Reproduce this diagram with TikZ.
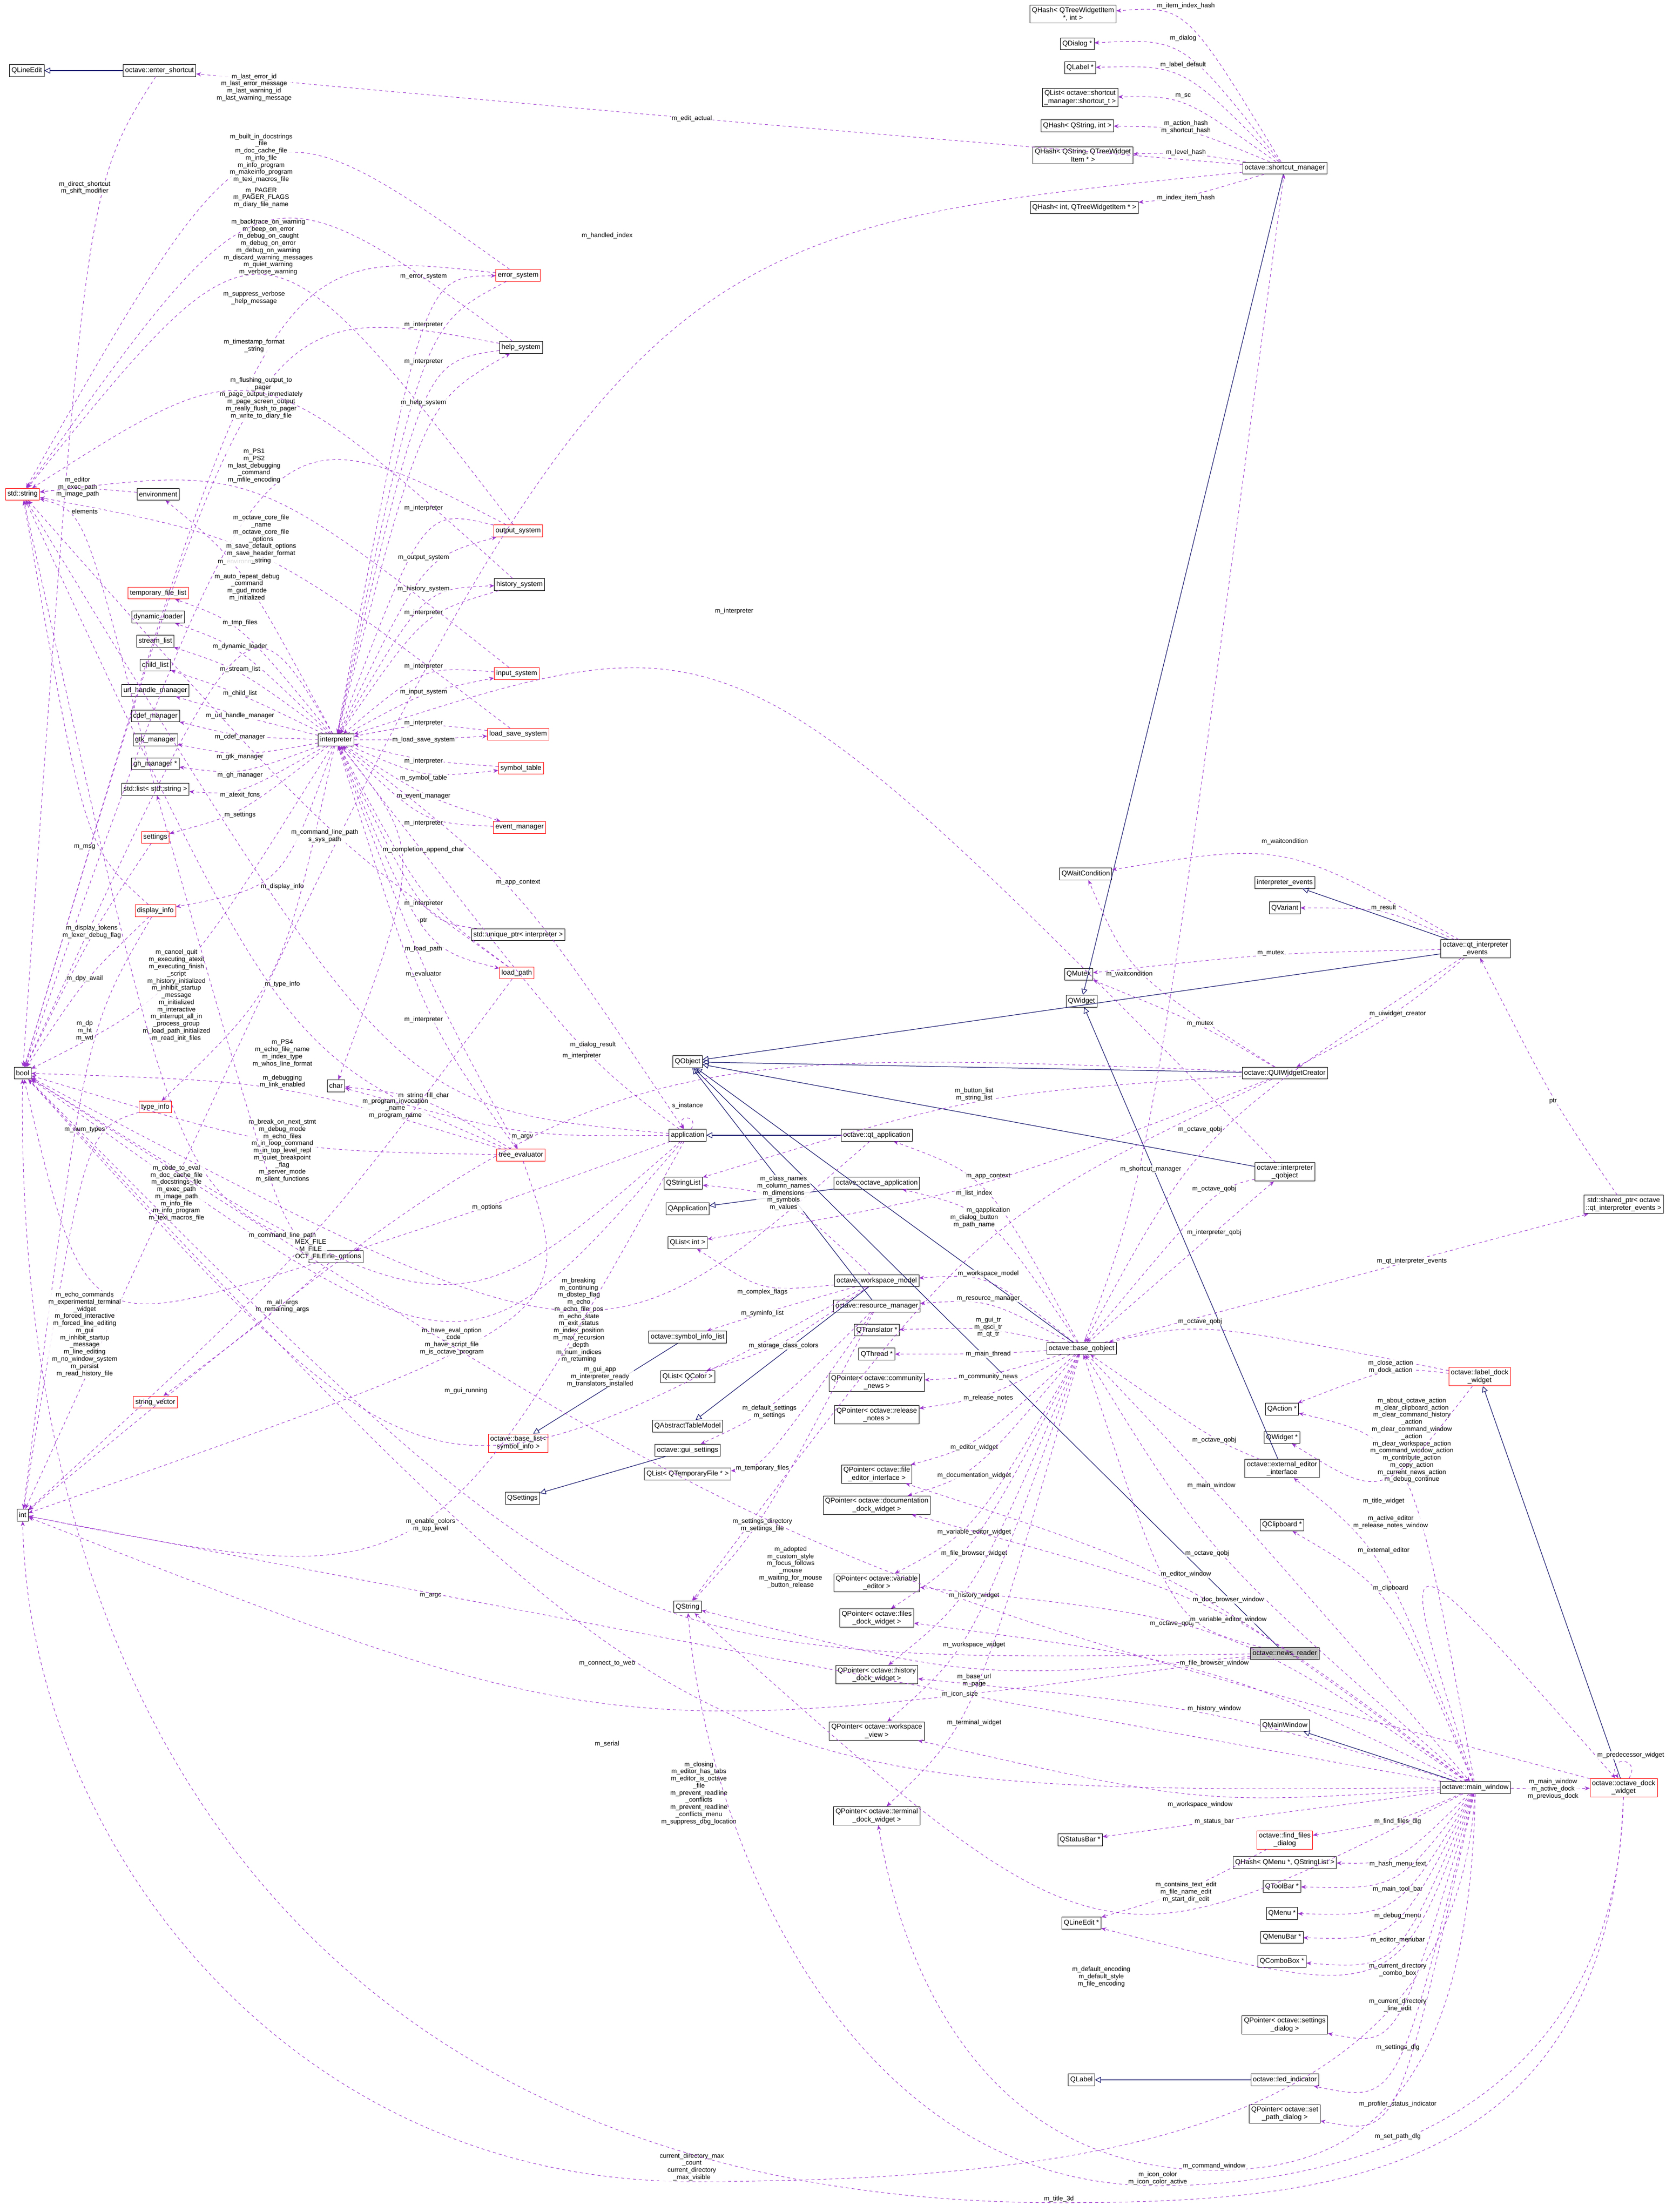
\documentclass[tikz,border=0pt]{standalone}
\usepackage{fontspec}
\setmainfont{Liberation Sans}
\usetikzlibrary{arrows.meta,calc}
\definecolor{dpur}{HTML}{9A32CD}
\definecolor{dblu}{HTML}{191970}
\tikzset{
 box/.style={draw=black,line width=0.4pt,fill=white,font=\fontsize{7}{8}\selectfont,inner sep=2pt,align=center,minimum height=12pt},
 rbox/.style={box,draw=red},
 gbox/.style={box,fill=black!25},
 lbl/.style={font=\fontsize{6.5}{7.2}\selectfont,inner sep=0.8pt,align=center,fill=white,fill opacity=0.85,text opacity=1},
 dep/.style={draw=dpur,dashed,line width=0.5pt,-{Stealth[length=5pt,width=4pt]}},
 inh/.style={draw=dblu,line width=0.6pt,-{Triangle[open,length=6pt,width=6pt]}}
}
\newcount\lblc
\newcommand\dep[4]{\global\advance\lblc by 1
 \draw[dep] (#1) .. controls (#3) and (#3) .. (#2);
 \node[lbl] (L\the\lblc) at (#3) {#4};}
% edge through point #3 with explicit controls: src,dst,point,label,c1,c2,c3,c4
\newcommand\depw[8]{\global\advance\lblc by 1
 \draw[dep] (#1) .. controls (#5) and (#6) .. (#3) .. controls (#7) and (#8) .. (#2);
 \node[lbl,anchor=south] (L\the\lblc) at (#3) {#4};}
\newcommand\inhe[2]{\draw[inh] (#1) -- (#2);}
\begin{document}
\catcode`\_=12
\begin{tikzpicture}[x=0.05cm,y=-0.05cm]
\useasboundingbox (0,0) rectangle (1180,1566.6);
% ---- nodes
\node[box] (qhA) at (760,10) {QHash< QTreeWidgetItem\\ *, int >};
\node[box] (qdlg) at (763,31) {QDialog *};
\node[box] (qlabP) at (765,48) {QLabel *};
\node[box] (qlsc) at (765,69) {QList< octave::shortcut\\_manager::shortcut_t >};
\node[box] (qhsi) at (763,89) {QHash< QString, int >};
\node[box] (qhst) at (767,110) {QHash< QString, QTreeWidget\\Item * >};
\node[box] (qhit) at (768,147) {QHash< int, QTreeWidgetItem * >};
\node[box] (sm) at (910,119) {octave::shortcut_manager};
\node[box] (qle) at (19,50) {QLineEdit};
\node[box] (es) at (113,50) {octave::enter_shortcut};
\node[rbox] (err) at (367,195) {error_system};
\node[box] (help) at (369,246) {help_system};
\node[rbox] (str) at (16,350) {std::string};
\node[box] (env) at (112,350) {environment};
\node[rbox] (outs) at (367,376) {output_system};
\node[box] (hist) at (368,414) {history_system};
\node[rbox] (tfl) at (112,420) {temporary_file_list};
\node[box] (dl) at (112,437) {dynamic_loader};
\node[box] (sl) at (110,454) {stream_list};
\node[box] (cl) at (110,471) {child_list};
\node[box] (uhm) at (110,489) {url_handle_manager};
\node[box] (cdef) at (110,507) {cdef_manager};
\node[box] (gtk) at (110,524) {gtk_manager};
\node[box] (gh) at (110,541) {gh_manager *};
\node[box] (slist) at (110,559) {std::list< std::string >};
\node[rbox] (sett) at (110,593) {settings};
\node[rbox] (dinfo) at (110,645) {display_info};
\node[rbox] (tinfo) at (110,784) {type_info};
\node[box] (interp) at (238,524) {interpreter};
\node[rbox] (inp) at (366,477) {input_system};
\node[rbox] (lss) at (367,520) {load_save_system};
\node[rbox] (symt) at (369,544) {symbol_table};
\node[rbox] (evm) at (368,586) {event_manager};
\node[box] (uptr) at (367,662) {std::unique_ptr< interpreter >};
\node[rbox] (lp) at (366,689) {load_path};
\node[box] (bool) at (16,760) {bool};
\node[box] (char) at (238,769) {char};
\node[rbox] (te) at (369,818) {tree_evaluator};
\node[box] (app) at (487,804) {application};
\node[box] (qtapp) at (621,804) {octave::qt_application};
\node[box] (qobj) at (487,752) {QObject};
\node[box] (qsl) at (484,838) {QStringList};
\node[box] (qapp) at (487,856) {QApplication};
\node[box] (octapp) at (621,838) {octave::octave_application};
\node[box] (qli) at (487,880) {QList< int >};
\node[box] (cmd) at (238,890) {cmdline_options};
\node[rbox] (sv) at (110,993) {string_vector};
\node[box] (int) at (16,1073) {int};
\node[box] (wsm) at (621,907) {octave::workspace_model};
\node[box] (rm) at (621,925) {octave::resource_manager};
\node[box] (sil) at (487,947) {octave::symbol_info_list};
\node[box] (qtr) at (621,942) {QTranslator *};
\node[box] (qth) at (621,959) {QThread *};
\node[box] (qlc) at (487,975) {QList< QColor >};
\node[box] (pcn) at (621,979) {QPointer< octave::community\\_news >};
\node[box] (qatm) at (487,1010) {QAbstractTableModel};
\node[box] (prn) at (621,1002) {QPointer< octave::release\\_notes >};
\node[box] (gs) at (487,1027) {octave::gui_settings};
\node[box] (qltf) at (487,1044) {QList< QTemporaryFile * >};
\node[rbox] (bl) at (367,1022) {octave::base_list<\\ symbol_info >};
\node[box] (qset) at (370,1061) {QSettings};
\node[box] (pfe) at (621,1044) {QPointer< octave::file\\_editor_interface >};
\node[box] (pdoc) at (621,1066) {QPointer< octave::documentation\\_dock_widget >};
\node[box] (qstr) at (487,1138) {QString};
\node[box] (pve) at (621,1121) {QPointer< octave::variable\\_editor >};
\node[box] (pfd) at (621,1146) {QPointer< octave::files\\_dock_widget >};
\node[box] (phd) at (621,1186) {QPointer< octave::history\\_dock_widget >};
\node[box] (pwv) at (621,1226) {QPointer< octave::workspace\\_view >};
\node[box] (ptd) at (621,1286) {QPointer< octave::terminal\\_dock_widget >};
\node[box] (bq) at (766,955) {octave::base_qobject};
\node[box] (qwc) at (769,619) {QWaitCondition};
\node[box] (ie) at (910,625) {interpreter_events};
\node[box] (qvar) at (910,643) {QVariant};
\node[box] (qie) at (1045,672) {octave::qt_interpreter\\_events};
\node[box] (qmutex) at (764,690) {QMutex};
\node[box] (qwidget) at (766,709) {QWidget};
\node[box] (uic) at (910,760) {octave::QUIWidgetCreator};
\node[box] (iqo) at (910,830) {octave::interpreter\\_qobject};
\node[box] (shp) at (1150,853) {std::shared_ptr< octave\\::qt_interpreter_events >};
\node[rbox] (ldw) at (1048,975) {octave::label_dock\\_widget};
\node[box] (qact) at (908,998) {QAction *};
\node[box] (qwidp) at (908,1018) {QWidget *};
\node[box] (eei) at (908,1040) {octave::external_editor\\_interface};
\node[box] (qclip) at (908,1080) {QClipboard *};
\node[gbox] (nr) at (910,1171) {octave::news_reader};
\node[box] (qmw) at (910,1222) {QMainWindow};
\node[box] (mw) at (1045,1266) {octave::main_window};
\node[rbox] (odw) at (1150,1266) {octave::octave_dock\\_widget};
\node[box] (qsb) at (765,1303) {QStatusBar *};
\node[rbox] (ffd) at (910,1303) {octave::find_files\\_dialog};
\node[box] (qhm) at (910,1319) {QHash< QMenu *, QStringList >};
\node[box] (qtb) at (908,1336) {QToolBar *};
\node[box] (qmenu) at (908,1355) {QMenu *};
\node[box] (qmb) at (908,1372) {QMenuBar *};
\node[box] (qcb) at (908,1389) {QComboBox *};
\node[box] (qlep) at (766,1362) {QLineEdit *};
\node[box] (psd) at (910,1434) {QPointer< octave::settings\\_dialog >};
\node[box] (qlab) at (766,1473) {QLabel};
\node[box] (led) at (910,1473) {octave::led_indicator};
\node[box] (pspd) at (910,1497) {QPointer< octave::set\\_path_dialog >};
% ---- inheritance
\inhe{sm}{qwidget}
\inhe{es}{qle}
\inhe{qtapp}{app}
\inhe{octapp}{qapp}
\inhe{bq}{qobj}
\inhe{wsm}{qatm}
\inhe{rm}{qobj}
\inhe{gs}{qset}
\inhe{sil}{bl}
\inhe{qie}{ie}
\inhe{qie}{qobj}
\inhe{uic}{qobj}
\inhe{iqo}{qobj}
\inhe{nr}{qobj}
\inhe{eei}{qwidget}
\inhe{mw}{qmw}
\inhe{odw}{ldw}
\inhe{led}{qlab}
% ---- shortcut manager
\dep{sm}{qhA}{840,4}{m_item_index_hash}
\dep{sm}{qdlg}{838,27}{m_dialog}
\dep{sm}{qlabP}{838,46}{m_label_default}
\dep{sm}{qlsc}{838,68}{m_sc}
\dep{sm}{qhsi}{840,90}{m_action_hash\\m_shortcut_hash}
\dep{sm}{qhst}{840,108}{m_level_hash}
\dep{sm}{qhit}{840,140}{m_index_item_hash}
\dep{sm}{es}{490,84}{m_edit_actual}
\dep{sm}{int}{430,167}{m_handled_index}
\dep{es}{bool}{60,133}{m_direct_shortcut\\m_shift_modifier}
% ---- interpreter subsystems
\dep{err}{str}{180,62}{m_last_error_id\\m_last_error_message\\m_last_warning_id\\m_last_warning_message}
\dep{err}{bool}{190,175}{m_backtrace_on_warning\\m_beep_on_error\\m_debug_on_caught\\m_debug_on_error\\m_debug_on_warning\\m_discard_warning_messages\\m_quiet_warning\\m_verbose_warning}
\dep{err}{interp}{300,230}{m_interpreter}
\dep{interp}{err}{300,196}{m_error_system}
\dep{help}{str}{185,112}{m_built_in_docstrings\\_file\\m_doc_cache_file\\m_info_file\\m_info_program\\m_makeinfo_program\\m_texi_macros_file}
\dep{help}{bool}{180,211}{m_suppress_verbose\\_help_message}
\dep{help}{interp}{300,256}{m_interpreter}
\dep{interp}{help}{300,285}{m_help_system}
\dep{outs}{str}{185,140}{m_PAGER\\m_PAGER_FLAGS\\m_diary_file_name}
\dep{outs}{bool}{185,282}{m_flushing_output_to\\_pager\\m_page_output_immediately\\m_page_screen_output\\m_really_flush_to_pager\\m_write_to_diary_file}
\dep{outs}{interp}{300,360}{m_interpreter}
\dep{interp}{outs}{300,395}{m_output_system}
\dep{hist}{str}{180,245}{m_timestamp_format\\_string}
\dep{hist}{interp}{300,434}{m_interpreter}
\dep{interp}{hist}{300,417}{m_history_system}
\dep{env}{str}{55,345}{m_editor\\m_exec_path\\m_image_path}
\dep{interp}{env}{170,398}{m_environment}
\dep{inp}{str}{180,330}{m_PS1\\m_PS2\\m_last_debugging\\_command\\m_mfile_encoding}
\dep{inp}{interp}{300,472}{m_interpreter}
\dep{interp}{inp}{300,490}{m_input_system}
\dep{lss}{str}{185,382}{m_octave_core_file\\_name\\m_octave_core_file\\_options\\m_save_default_options\\m_save_header_format\\_string}
\dep{lss}{interp}{300,512}{m_interpreter}
\dep{interp}{lss}{300,524}{m_load_save_system}
\dep{symt}{interp}{300,539}{m_interpreter}
\dep{interp}{symt}{300,551}{m_symbol_table}
\dep{interp}{evm}{300,564}{m_event_manager}
\dep{evm}{interp}{300,583}{m_interpreter}
\dep{interp}{tfl}{170,441}{m_tmp_files}
\dep{interp}{dl}{170,458}{m_dynamic_loader}
\dep{interp}{sl}{170,474}{m_stream_list}
\dep{interp}{cl}{170,491}{m_child_list}
\dep{interp}{uhm}{170,507}{m_url_handle_manager}
\dep{interp}{cdef}{170,522}{m_cdef_manager}
\dep{interp}{gtk}{170,536}{m_gtk_manager}
\dep{interp}{gh}{170,549}{m_gh_manager}
\dep{interp}{slist}{170,563}{m_atexit_fcns}
\dep{interp}{sett}{170,577}{m_settings}
\dep{interp}{dinfo}{200,628}{m_display_info}
\dep{interp}{tinfo}{200,697}{m_type_info}
\dep{interp}{lp}{300,672}{m_load_path}
\dep{lp}{interp}{300,640}{m_interpreter}
\dep{interp}{te}{300,690}{m_evaluator}
\dep{te}{interp}{300,722}{m_interpreter}
\dep{uptr}{interp}{300,652}{ptr}
\dep{interp}{app}{367,625}{m_app_context}
\dep{interp}{char}{300,602}{m_completion_append_char}
\dep{lp}{str}{230,592}{m_command_line_path\\s_sys_path}
\dep{interp}{bool}{175,416}{m_auto_repeat_debug\\_command\\m_gud_mode\\m_initialized}
\dep{interp}{bool}{125,705}{m_cancel_quit\\m_executing_atexit\\m_executing_finish\\_script\\m_history_initialized\\m_inhibit_startup\\_message\\m_initialized\\m_interactive\\m_interrupt_all_in\\_process_group\\m_load_path_initialized\\m_read_init_files}
\dep{slist}{str}{60,362}{elements}
\dep{sett}{bool}{65,660}{m_display_tokens\\m_lexer_debug_flag}
\dep{dinfo}{str}{60,600}{m_msg}
\dep{dinfo}{bool}{60,693}{m_dpy_avail}
\dep{dinfo}{int}{60,730}{m_dp\\m_ht\\m_wd}
\dep{tinfo}{int}{60,800}{m_num_types}
\dep{te}{str}{200,746}{m_PS4\\m_echo_file_name\\m_index_type\\m_whos_line_format}
\dep{te}{bool}{200,766}{m_debugging\\m_link_enabled}
\dep{te}{char}{300,776}{m_string_fill_char}
\dep{te}{bool}{200,815}{m_break_on_next_stmt\\m_debug_mode\\m_echo_files\\m_in_loop_command\\m_in_top_level_repl\\m_quiet_breakpoint\\_flag\\m_server_mode\\m_silent_functions}
\dep{te}{int}{410,935}{m_breaking\\m_continuing\\m_dbstep_flag\\m_echo\\m_echo_file_pos\\m_echo_state\\m_exit_status\\m_index_position\\m_max_recursion\\_depth\\m_num_indices\\m_returning}
\dep{app}{str}{280,785}{m_program_invocation\\_name\\m_program_name}
\dep{app}{interp}{412,748}{m_interpreter}
\dep{app}{char}{370,805}{m_argv}
\dep{app}{cmd}{345,855}{m_options}
\dep{app}{bool}{320,950}{m_have_eval_option\\_code\\m_have_script_file\\m_is_octave_program}
\dep{app}{bool}{330,985}{m_gui_running}
\dep{app}{int}{305,1130}{m_argc}
\dep{qtapp}{bool}{425,975}{m_gui_app\\m_interpreter_ready\\m_translators_installed}
\dep{cmd}{str}{125,845}{m_code_to_eval\\m_doc_cache_file\\m_docstrings_file\\m_exec_path\\m_image_path\\m_info_file\\m_info_program\\m_texi_macros_file}
\dep{cmd}{slist}{200,875}{m_command_line_path}
\dep{lp}{int}{220,885}{MEX_FILE\\M_FILE\\OCT_FILE}
\dep{cmd}{bool}{60,945}{m_echo_commands\\m_experimental_terminal\\_widget\\m_forced_interactive\\m_forced_line_editing\\m_gui\\m_inhibit_startup\\_message\\m_line_editing\\m_no_window_system\\m_persist\\m_read_history_file}
\dep{cmd}{sv}{200,925}{m_all_args\\m_remaining_args}
\draw[dep] (app) to[out=60,in=120,looseness=6] (app);
\node[lbl] (sinst) at (487,783) {s_instance};
% ---- Qt side
\dep{uic}{int}{420,740}{m_dialog_result}
\dep{wsm}{bool}{305,1080}{m_enable_colors\\m_top_level}
\dep{nr}{bool}{430,1178}{m_connect_to_web}
\dep{nr}{int}{430,1235}{m_serial}
\dep{nr}{qstr}{690,1190}{m_base_url\\m_page}
\dep{nr}{bq}{830,1150}{m_octave_qobj}
\dep{mw}{bool}{495,1270}{m_closing\\m_editor_has_tabs\\m_editor_is_octave\\_file\\m_prevent_readline\\_conflicts\\m_prevent_readline\\_conflicts_menu\\m_suppress_dbg_location}
\depw{mw}{int}{490,1545}{current_directory_max\\_count\\current_directory\\_max_visible}{1030,1500}{800,1545}{200,1545}{20,1300}
\depw{odw}{bool}{750,1560}{m_title_3d}{1140,1540}{950,1560}{300,1560}{10,1300}
\depw{mw}{ptd}{860,1537}{m_command_window}{1040,1500}{950,1537}{700,1537}{640,1400}
\depw{odw}{qstr}{820,1548}{m_icon_color\\m_icon_color_active}{1145,1500}{950,1548}{600,1548}{500,1300}
\dep{mw}{int}{680,1200}{m_icon_size}
\dep{bq}{qtapp}{700,833}{m_app_context}
\dep{bq}{octapp}{700,857}{m_qapplication}
\dep{uic}{qsl}{690,775}{m_button_list\\m_string_list}
\dep{uic}{qstr}{690,865}{m_dialog_button\\m_path_name}
\dep{uic}{qli}{690,845}{m_list_index}
\dep{wsm}{qsl}{555,845}{m_class_names\\m_column_names\\m_dimensions\\m_symbols\\m_values}
\dep{wsm}{qlc}{555,953}{m_storage_class_colors}
\dep{wsm}{sil}{540,930}{m_syminfo_list}
\dep{wsm}{qli}{540,915}{m_complex_flags}
\dep{bq}{wsm}{700,902}{m_workspace_model}
\dep{bq}{rm}{700,920}{m_resource_manager}
\dep{bq}{qtr}{700,940}{m_gui_tr\\m_qsci_tr\\m_qt_tr}
\dep{bq}{qth}{700,959}{m_main_thread}
\dep{bq}{pcn}{700,975}{m_community_news}
\dep{bq}{prn}{700,990}{m_release_notes}
\dep{rm}{gs}{545,1000}{m_default_settings\\m_settings}
\dep{rm}{qltf}{540,1040}{m_temporary_files}
\dep{rm}{qstr}{540,1080}{m_settings_directory\\m_settings_file}
\dep{odw}{bool}{560,1110}{m_adopted\\m_custom_style\\m_focus_follows\\_mouse\\m_waiting_for_mouse\\_button_release}
\dep{bq}{pfe}{690,1025}{m_editor_widget}
\dep{bq}{pdoc}{690,1045}{m_documentation_widget}
\dep{bq}{pve}{690,1085}{m_variable_editor_widget}
\dep{bq}{pfd}{690,1100}{m_file_browser_widget}
\dep{bq}{phd}{690,1130}{m_history_widget}
\dep{bq}{pwv}{690,1165}{m_workspace_widget}
\dep{bq}{ptd}{690,1220}{m_terminal_widget}
\dep{bq}{iqo}{860,873}{m_interpreter_qobj}
\dep{bq}{shp}{1000,893}{m_qt_interpreter_events}
\dep{bq}{mw}{858,1052}{m_main_window}
\dep{bq}{sm}{815,828}{m_shortcut_manager}
\dep{iqo}{bq}{860,842}{m_octave_qobj}
\dep{qie}{bq}{850,800}{m_octave_qobj}
\dep{mw}{bq}{855,1100}{m_octave_qobj}
\dep{ldw}{bq}{850,936}{m_octave_qobj}
\dep{eei}{bq}{860,1020}{m_octave_qobj}
\dep{iqo}{interp}{520,433}{m_interpreter}
\dep{qie}{qwc}{910,596}{m_waitcondition}
\dep{uic}{qwc}{800,690}{m_waitcondition}
\dep{qie}{qvar}{980,643}{m_result}
\dep{qie}{qmutex}{900,675}{m_mutex}
\dep{uic}{qmutex}{850,725}{m_mutex}
\dep{qie}{uic}{990,718}{m_uiwidget_creator}
\dep{shp}{qie}{1100,780}{ptr}
\dep{mw}{qact}{1000,1020}{m_about_octave_action\\m_clear_clipboard_action\\m_clear_command_history\\_action\\m_clear_command_window\\_action\\m_clear_workspace_action\\m_command_window_action\\m_contribute_action\\m_copy_action\\m_current_news_action\\m_debug_continue}
\dep{ldw}{qact}{985,968}{m_close_action\\m_dock_action}
\dep{ldw}{qwidp}{980,1063}{m_title_widget}
\dep{mw}{eei}{980,1098}{m_external_editor}
\dep{mw}{odw}{985,1078}{m_active_editor\\m_release_notes_window}
\dep{mw}{qclip}{985,1125}{m_clipboard}
\dep{mw}{pdoc}{870,1133}{m_doc_browser_window}
\dep{mw}{pve}{870,1147}{m_variable_editor_window}
\dep{mw}{pfd}{860,1178}{m_file_browser_window}
\dep{mw}{phd}{860,1210}{m_history_window}
\dep{mw}{pwv}{850,1278}{m_workspace_window}
\dep{mw}{pfe}{840,1115}{m_editor_window}
\dep{mw}{qsb}{860,1290}{m_status_bar}
\dep{mw}{ffd}{990,1290}{m_find_files_dlg}
\dep{mw}{qhm}{990,1320}{m_hash_menu_text}
\dep{mw}{qtb}{990,1338}{m_main_tool_bar}
\dep{mw}{qmenu}{990,1357}{m_debug_menu}
\dep{mw}{qmb}{990,1374}{m_editor_menubar}
\dep{mw}{qcb}{990,1395}{m_current_directory\\_combo_box}
\dep{mw}{qlep}{990,1420}{m_current_directory\\_line_edit}
\dep{ffd}{qlep}{840,1340}{m_contains_text_edit\\m_file_name_edit\\m_start_dir_edit}
\dep{mw}{qstr}{780,1400}{m_default_encoding\\m_default_style\\m_file_encoding}
\dep{mw}{psd}{990,1450}{m_settings_dlg}
\dep{mw}{led}{990,1490}{m_profiler_status_indicator}
\dep{mw}{pspd}{990,1513}{m_set_path_dlg}
\dep{mw}{odw}{1100,1267}{m_main_window\\m_active_dock\\m_previous_dock}
\draw[dep] (odw) to[out=60,in=120,looseness=6] (odw);
\node[lbl] (pred) at (1155,1243) {m_predecessor_widget};
\end{tikzpicture}
\end{document}
